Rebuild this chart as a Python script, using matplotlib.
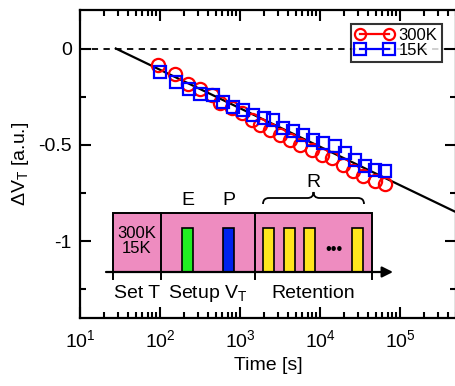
import numpy as np
import matplotlib
matplotlib.use("Agg")
import matplotlib.pyplot as plt
from matplotlib.patches import Rectangle, PathPatch
from matplotlib.path import Path
from matplotlib.ticker import LogLocator, MultipleLocator, NullFormatter

plt.rcParams['font.family'] = ['Liberation Sans', 'DejaVu Sans']
plt.rcParams['mathtext.fontset'] = 'custom'
plt.rcParams['mathtext.rm'] = 'Liberation Sans'
plt.rcParams['mathtext.it'] = 'Liberation Sans:italic'

# measured data
t_300k = [95, 154, 224, 316, 447, 562, 794, 1059, 1413, 1778, 2371, 3162,
          4217, 5623, 7943, 10593, 14125, 19400, 25900, 34400, 48700, 65000]
dv_300k = [-0.088, -0.13, -0.182, -0.208, -0.242, -0.285, -0.311, -0.337,
           -0.371, -0.397, -0.423, -0.448, -0.474, -0.5, -0.526, -0.552,
           -0.569, -0.603, -0.638, -0.663, -0.689, -0.706]
t_15k = [100, 160, 233, 320, 458, 610, 818, 1096, 1460, 2000, 2560, 3460,
         4570, 6100, 8150, 10900, 15300, 20300, 27200, 36400, 48700, 65000]
dv_15k = [-0.122, -0.174, -0.208, -0.234, -0.242, -0.277, -0.302, -0.32,
          -0.345, -0.362, -0.371, -0.414, -0.431, -0.448, -0.474, -0.491,
          -0.509, -0.543, -0.577, -0.612, -0.629, -0.637]
fit_t = [28, 5e5]
fit_dv = [0.0, -0.85]

fs = 14

fig = plt.figure(figsize=(4.55, 3.86), dpi=100)
ax = fig.add_axes([80/455, 68/386, 376/455, 308/386])

ax.axhline(0, color='black', lw=1.3, ls=(0, (3.5, 3)))
ax.plot(fit_t, fit_dv, color='black', lw=1.6, zorder=3)
ax.plot(t_300k, dv_300k, 'o', color='red', mfc='none', ms=9.5, mew=1.6,
        ls='-', lw=0, label='300K', zorder=4)
ax.plot(t_15k, dv_15k, 's', color='#0000ff', mfc='none', ms=8, mew=1.6,
        ls='-', lw=0, label='15K', zorder=4)

ax.set_xscale('log')
ax.set_xlim(10, 5e5)
ax.set_ylim(-1.4, 0.2)
ax.xaxis.set_major_locator(LogLocator(base=10, numticks=10))
ax.xaxis.set_minor_locator(LogLocator(base=10, subs=np.arange(2, 10), numticks=20))
ax.xaxis.set_minor_formatter(NullFormatter())
ax.yaxis.set_major_locator(MultipleLocator(0.5))
ax.yaxis.set_minor_locator(MultipleLocator(0.25))
ax.set_yticks([0, -0.5, -1])
ax.set_yticklabels(['0', '-0.5', '-1'])
ax.tick_params(which='both', direction='in', top=True, right=True, width=1.5,
               labelsize=fs)
ax.tick_params(which='major', length=8, pad=6)
ax.tick_params(axis='x', which='major', pad=8)
ax.tick_params(which='minor', length=4.5)
for s in ax.spines.values():
    s.set_linewidth(1.6)

ax.set_xlabel('Time [s]', fontsize=fs, labelpad=4)
ax.set_ylabel(r'$\Delta$V$_\mathrm{T}$ [a.u.]', fontsize=fs, labelpad=5)

leg = ax.legend(loc='upper right', bbox_to_anchor=(0.962, 0.955), fontsize=12,
                frameon=True, fancybox=False, edgecolor='black', numpoints=2,
                handlelength=2.3, handletextpad=0.3, borderpad=0.25,
                labelspacing=0.0, borderaxespad=0)
leg.get_frame().set_linewidth(1.5)
for h in leg.get_lines():
    h.set_linewidth(1.6)
    h.set_markersize(8)

# schematic of the measurement sequence (pixel coordinates of the panel)
ins = fig.add_axes([100/455, 86/386, 300/455, 130/386])
ins.set_xlim(100, 400)
ins.set_ylim(300, 170)
ins.axis('off')

pink = '#ee8cc0'
ins.add_patch(Rectangle((113, 213), 259, 59, fc=pink, ec='black', lw=1.4))
for x in [161, 255]:
    ins.plot([x, x], [213, 272], color='black', lw=1.4)
ins.annotate('', xy=(393, 272), xytext=(106, 272),
             arrowprops=dict(arrowstyle='-|>', color='black', lw=1.6,
                             mutation_scale=16, shrinkA=0, shrinkB=0))
for x in [113, 161, 255, 372]:
    ins.plot([x, x], [272, 279], color='black', lw=1.4)

bars = [(182, '#22ee22'), (223, '#0022ee'), (263, '#ffe61e'), (284, '#ffe61e'),
        (304, '#ffe61e'), (352, '#ffe61e')]
for x, c in bars:
    ins.add_patch(Rectangle((x, 228), 11, 44, fc=c, ec='black', lw=1.2))
ins.text(334, 250, '•••', ha='center', va='center', fontsize=12)

ins.text(137, 241, '300K\n15K', ha='center', va='center', fontsize=12,
         linespacing=1.0)
ins.text(188, 201, 'E', ha='center', va='center', fontsize=fs)
ins.text(229, 201, 'P', ha='center', va='center', fontsize=fs)
ins.text(313, 183, 'R', ha='center', va='center', fontsize=fs)
ins.text(137, 294, 'Set T', ha='center', va='center', fontsize=fs)
ins.text(208, 294, r'Setup V$_\mathrm{T}$', ha='center', va='center', fontsize=fs)
ins.text(313, 294, 'Retention', ha='center', va='center', fontsize=fs)

# curly brace over the retention pulses
x0, x1, xm = 263, 364, 313.5
yb, yc, yt = 204, 198, 192
verts = [(x0, yb), (x0, yc), (x0 + 6, yc),
         (xm - 6, yc), (xm, yc), (xm, yt),
         (xm, yc), (xm + 6, yc),
         (x1 - 6, yc), (x1, yc), (x1, yb)]
codes = [Path.MOVETO, Path.CURVE3, Path.CURVE3,
         Path.LINETO, Path.CURVE3, Path.CURVE3,
         Path.CURVE3, Path.CURVE3,
         Path.LINETO, Path.CURVE3, Path.CURVE3]
ins.add_patch(PathPatch(Path(verts, codes), fc='none', ec='black', lw=1.3))

fig.savefig('out.png', dpi=100)
